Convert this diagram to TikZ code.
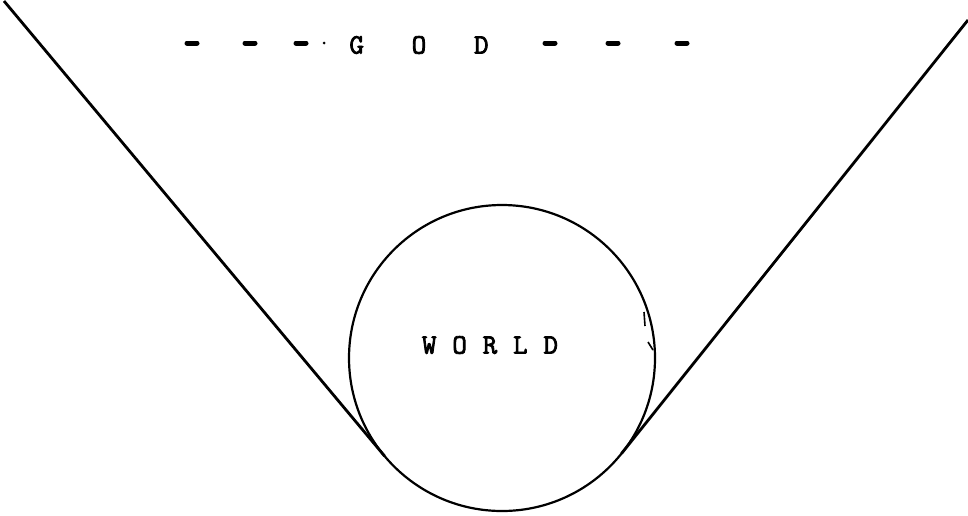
\documentclass[tikz,border=0pt]{standalone}
\usepackage{fontspec}
\newfontfamily\typew[FakeBold=3,LetterSpace=5.5]{Latin Modern Mono}
\usetikzlibrary{calc}
\tikzset{
  lbl/.style={font=\typew\fontsize{28}{28}\selectfont, inner sep=0pt, anchor=center},
  dashmark/.style={line width=5pt, line cap=round},
  tline/.style={line width=2.8pt},
  ring/.style={circle, draw, line width=2.2pt, minimum size=306pt, inner sep=0pt, outer sep=0pt}
}
\begin{document}
\begin{tikzpicture}[x=1pt,y=-1pt]
\useasboundingbox (0,0) rectangle (968,515);
% circle
\node[ring] (world) at (502,358) {};
\node[lbl] (worldtxt) at (490,345) {W\ O\ R\ L\ D};
% GOD
\node[lbl] (god) at (419,45) {G\ \ \ O\ \ \ D};
% dashes
\foreach \x/\n in {192/d1,250/d2,301/d3,550/d4,613/d5,682/d6}{
  \coordinate (\n) at (\x,43);
  \draw[dashmark] ($(\n)+(-5,0)$) -- ($(\n)+(5,0)$);
}
\fill (324,43) circle (1.5pt);
% tangent lines
\coordinate (tl) at (4,1);
\coordinate (tr) at (968,20);
\draw[tline] (tl) -- (tangent cs:node=world,point={(tl)},solution=1);
\draw[tline] (tr) -- (tangent cs:node=world,point={(tr)},solution=2);
% small marks on the circle
\draw[line width=1.6pt] (644,312) -- (645,326);
\draw[line width=1.6pt] (648,342) -- (653,350);
\end{tikzpicture}
\end{document}
